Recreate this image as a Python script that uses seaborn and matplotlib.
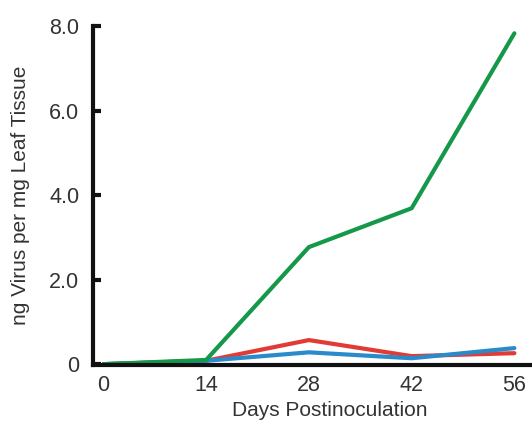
import matplotlib
matplotlib.use("Agg")
import matplotlib.pyplot as plt
import seaborn as sns
import pandas as pd

days = [0, 14, 28, 42, 56]
series_names = ["Red", "Blue", "Green"]
red_vals = [0.0, 0.08, 0.57, 0.19, 0.26]
blue_vals = [0.0, 0.08, 0.28, 0.14, 0.38]
green_vals = [0.0, 0.1, 2.77, 3.69, 7.83]
ytick_vals = [0, 2, 4, 6, 8]
ytick_labels = ["0", "2.0", "4.0", "6.0", "8.0"]
xtick_vals = [0, 14, 28, 42, 56]

sns.set_style("white")
plt.rcParams['font.family'] = ['Liberation Sans', 'DejaVu Sans']

df = pd.DataFrame({
    "day": days * 3,
    "value": red_vals + blue_vals + green_vals,
    "series": [series_names[0]] * 5 + [series_names[1]] * 5 + [series_names[2]] * 5,
})

fig = plt.figure(figsize=(5.32, 4.21), dpi=100)
ax = fig.add_axes([0.175, 0.133, 0.825, 0.805])
sns.lineplot(data=df, x="day", y="value", hue="series", hue_order=series_names,
             palette=["#e23b35", "#2a8bcb", "#15984a"], linewidth=3, legend=False, ax=ax)

ax.set_xlim(-1.4, 58.4)
ax.set_ylim(-0.02, 8.0)
ax.set_yticks(ytick_vals)
ax.set_yticklabels(ytick_labels, fontsize=15.5, color="#333333")
ax.set_xticks(xtick_vals)
ax.set_xticklabels([str(v) for v in xtick_vals], fontsize=15.5, color="#333333")
ax.set_xlabel("Days Postinoculation", fontsize=15, color="#333333")
ax.xaxis.set_label_coords(0.54, -0.105)
ax.set_ylabel("ng Virus per mg Leaf Tissue", fontsize=15, color="#333333", labelpad=14)
ax.tick_params(axis="y", left=True, direction="in", length=6, width=3, color="#111111", pad=10)
ax.tick_params(axis="x", bottom=False, length=0, pad=7)
for s in ["top", "right"]:
    ax.spines[s].set_visible(False)
for s in ["left", "bottom"]:
    ax.spines[s].set_linewidth(3)
    ax.spines[s].set_color("#111111")

fig.savefig("out.png", dpi=100)
